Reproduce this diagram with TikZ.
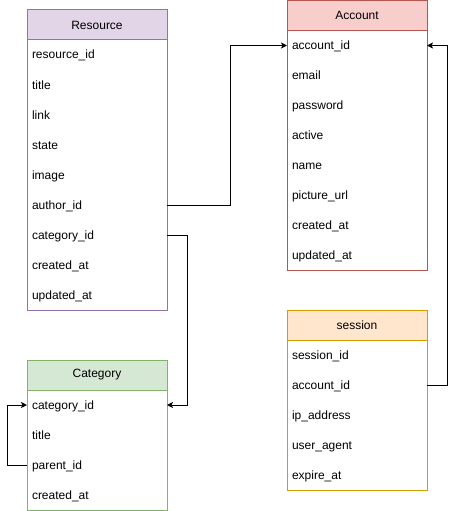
\documentclass[tikz,border=0pt]{standalone}
\usepackage{fontspec}
\setmainfont{Liberation Sans}
\definecolor{resfill}{HTML}{E1D5E7}
\definecolor{resline}{HTML}{9673A6}
\definecolor{accfill}{HTML}{F8CECC}
\definecolor{accline}{HTML}{B85450}
\definecolor{catfill}{HTML}{D5E8D4}
\definecolor{catline}{HTML}{82B366}
\definecolor{sesfill}{HTML}{FFE6CC}
\definecolor{sesline}{HTML}{D79B00}
\usetikzlibrary{arrows.meta,positioning}

\begin{document}
\begin{tikzpicture}[x=1pt,y=-1pt,
  head/.style={draw,line width=1pt,minimum width=140pt,minimum height=30pt,anchor=north west,
    inner sep=0pt,outer sep=0pt,font=\fontsize{12}{14}\selectfont},
  field/.style={text width=130pt,minimum height=30pt,inner xsep=5pt,inner ysep=0pt,outer sep=0pt,
    text height=10pt,text depth=2pt,align=left,font=\fontsize{12}{14}\selectfont},
  frame/.style={line width=1pt},
  arr/.style={-{Stealth[length=6pt,width=6pt,inset=1.5pt]},line width=1pt}
]
  \useasboundingbox (0,0) rectangle (457,511);

  % Resource
  \node[head,fill=resfill,draw=resline] (reshead) at (27,10) {Resource};
  \node[field,below=0pt of reshead] (resid) {resource\_id};
  \node[field,below=0pt of resid] (restitle) {title};
  \node[field,below=0pt of restitle] (reslink) {link};
  \node[field,below=0pt of reslink] (resstate) {state};
  \node[field,below=0pt of resstate] (resimage) {image};
  \node[field,below=0pt of resimage] (resauthor) {author\_id};
  \node[field,below=0pt of resauthor] (rescat) {category\_id};
  \node[field,below=0pt of rescat] (rescreated) {created\_at};
  \node[field,below=0pt of rescreated] (resupdated) {updated\_at};
  \draw[frame,resline] (reshead.north west) rectangle (resupdated.south east);

  % Account
  \node[head,fill=accfill,draw=accline] (acchead) at (287,0.5) {Account};
  \node[field,below=0pt of acchead] (accid) {account\_id};
  \node[field,below=0pt of accid] (accmail) {email};
  \node[field,below=0pt of accmail] (accpass) {password};
  \node[field,below=0pt of accpass] (accactive) {active};
  \node[field,below=0pt of accactive] (accname) {name};
  \node[field,below=0pt of accname] (accpic) {picture\_url};
  \node[field,below=0pt of accpic] (acccreated) {created\_at};
  \node[field,below=0pt of acccreated] (accupdated) {updated\_at};
  \draw[frame,accline] (acchead.north west) rectangle (accupdated.south east);

  % Category
  \node[head,fill=catfill,draw=catline] (cathead) at (27,360) {Category};
  \node[field,below=0pt of cathead] (catid) {category\_id};
  \node[field,below=0pt of catid] (cattitle) {title};
  \node[field,below=0pt of cattitle] (catparent) {parent\_id};
  \node[field,below=0pt of catparent] (catcreated) {created\_at};
  \draw[frame,catline] (cathead.north west) rectangle (catcreated.south east);

  % session
  \node[head,fill=sesfill,draw=sesline] (seshead) at (287,310) {session};
  \node[field,below=0pt of seshead] (sesid) {session\_id};
  \node[field,below=0pt of sesid] (sesacc) {account\_id};
  \node[field,below=0pt of sesacc] (sesip) {ip\_address};
  \node[field,below=0pt of sesip] (sesagent) {user\_agent};
  \node[field,below=0pt of sesagent] (sesexpire) {expire\_at};
  \draw[frame,sesline] (seshead.north west) rectangle (sesexpire.south east);

  % Relations
  \draw[arr] (resauthor.east) -- ++(63,0) |- (accid.west);
  \draw[arr] (rescat.east) -- ++(20,0) |- (catid.east);
  \draw[arr] (catparent.west) -- ++(-20,0) |- (catid.west);
  \draw[arr] (sesacc.east) -- ++(20,0) |- (accid.east);
\end{tikzpicture}
\end{document}
